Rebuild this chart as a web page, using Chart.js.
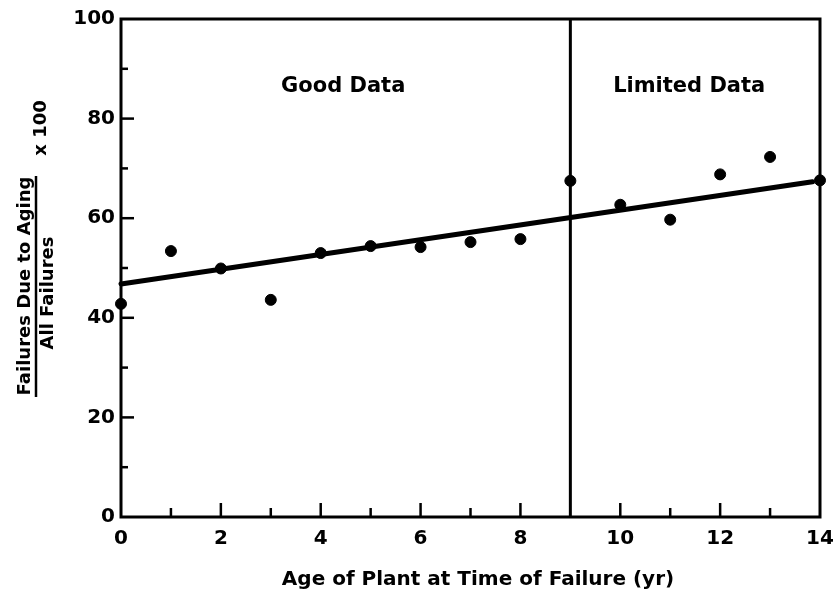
<!DOCTYPE html>
<html>
<head>
<meta charset="utf-8">
<script src="https://cdn.jsdelivr.net/npm/chart.js@4"></script>
<style>
  html, body { margin: 0; padding: 0; background: #fff; }
  #wrap { width: 836px; height: 594px; }
</style>
</head>
<body>
<div id="wrap"><canvas id="c" width="836" height="594"></canvas></div>
<script>
// ---- data ----
const ages = [0, 1, 2, 3, 4, 5, 6, 7, 8, 9, 10, 11, 12, 13, 14];
const agingPercent = [42.8, 53.4, 49.9, 43.6, 53.0, 54.4, 54.2, 55.2, 55.8, 67.5, 62.7, 59.7, 68.8, 72.3, 67.6];
const trendX = [0, 13.85];
const trendY = [46.8, 67.3];
const dividerX = 9;
const xTicks = [0, 2, 4, 6, 8, 10, 12, 14];
const yTicks = [0, 20, 40, 60, 80, 100];
const regionLabels = ["Good Data", "Limited Data"];
const regionCenters = [4.45, 11.38];
const regionLabelY = 87;
const xTitle = "Age of Plant at Time of Failure (yr)";
const yTitleNumerator = "Failures Due to Aging";
const yTitleDenominator = "All Failures";
const yTitleFactor = "x 100";

const FONT = '"DejaVu Sans", "Liberation Sans", Arial, sans-serif';

const framePlugin = {
  id: 'frame',
  afterDatasetsDraw(chart) {
    const { ctx, chartArea: a, scales: { x, y } } = chart;
    ctx.save();
    ctx.strokeStyle = '#000';
    ctx.lineCap = 'butt';
    // plot frame
    ctx.lineWidth = 3;
    ctx.strokeRect(a.left, a.top, a.right - a.left, a.bottom - a.top);
    // inward ticks on x axis
    ctx.lineWidth = 2.5;
    for (let v = 1; v < 14; v++) {
      if (v === dividerX) continue;
      const px = x.getPixelForValue(v);
      const len = v % 2 === 0 ? 14 : 9;
      ctx.beginPath(); ctx.moveTo(px, a.bottom); ctx.lineTo(px, a.bottom - len); ctx.stroke();
    }
    // inward ticks on y axis
    for (let v = 10; v < 100; v += 10) {
      const py = y.getPixelForValue(v);
      const len = v % 20 === 0 ? 13 : 7;
      ctx.beginPath(); ctx.moveTo(a.left, py); ctx.lineTo(a.left + len, py); ctx.stroke();
    }
    // region labels
    ctx.fillStyle = '#000';
    ctx.font = 'bold 21px ' + FONT;
    ctx.textAlign = 'center';
    ctx.textBaseline = 'middle';
    regionLabels.forEach((t, i) => ctx.fillText(t, x.getPixelForValue(regionCenters[i]), regionLabelY));
    // x title
    ctx.font = 'bold 20px ' + FONT;
    ctx.fillText(xTitle, 478, 580);
    // y title (fraction), rotated
    ctx.save();
    ctx.rotate(-Math.PI / 2);
    ctx.font = 'bold 18px ' + FONT;
    ctx.textAlign = 'center';
    ctx.textBaseline = 'middle';
    ctx.fillText(yTitleNumerator, -286, 25);
    ctx.fillText(yTitleDenominator, -293, 48);
    ctx.fillText(yTitleFactor, -128, 41);
    ctx.lineWidth = 2.5;
    ctx.beginPath(); ctx.moveTo(-397, 36); ctx.lineTo(-176, 36); ctx.stroke();
    ctx.restore();
    ctx.restore();
  }
};

new Chart(document.getElementById('c'), {
  type: 'scatter',
  data: {
    datasets: [
      {
        label: 'Divider',
        type: 'line',
        data: [{ x: dividerX, y: 0 }, { x: dividerX, y: 100 }],
        borderColor: '#000',
        borderWidth: 3,
        pointRadius: 0,
        clip: false
      },
      {
        label: 'Trend',
        type: 'line',
        data: trendX.map((v, i) => ({ x: v, y: trendY[i] })),
        borderColor: '#000',
        borderWidth: 5,
        borderCapStyle: 'round',
        pointRadius: 0,
        clip: false
      },
      {
        label: 'Aging failures',
        data: ages.map((a, i) => ({ x: a, y: agingPercent[i] })),
        backgroundColor: '#000',
        borderColor: '#000',
        pointRadius: 5.5,
        pointHoverRadius: 5.5,
        clip: false
      }
    ]
  },
  options: {
    responsive: false,
    animation: false,
    layout: { padding: { left: 0, top: 19, right: 0, bottom: 0 } },
    plugins: { legend: { display: false }, tooltip: { enabled: false } },
    scales: {
      x: {
        type: 'linear',
        min: 0, max: 14,
        afterFit(s) { s.height = 77; s.paddingRight = 16; s.paddingLeft = 0; },
        afterBuildTicks(s) { s.ticks = xTicks.map(v => ({ value: v })); },
        grid: { display: false, drawTicks: false },
        border: { display: false },
        ticks: {
          color: '#000',
          padding: 10,
          maxRotation: 0,
          autoSkip: false,
          font: { family: FONT, size: 20, weight: 'bold' }
        }
      },
      y: {
        type: 'linear',
        min: 0, max: 100,
        afterFit(s) { s.width = 121; },
        afterBuildTicks(s) { s.ticks = yTicks.map(v => ({ value: v })); },
        grid: { display: false, drawTicks: false },
        border: { display: false },
        ticks: {
          color: '#000',
          padding: 6,
          font: { family: FONT, size: 20, weight: 'bold' }
        }
      }
    }
  },
  plugins: [framePlugin]
});
</script>
</body>
</html>
